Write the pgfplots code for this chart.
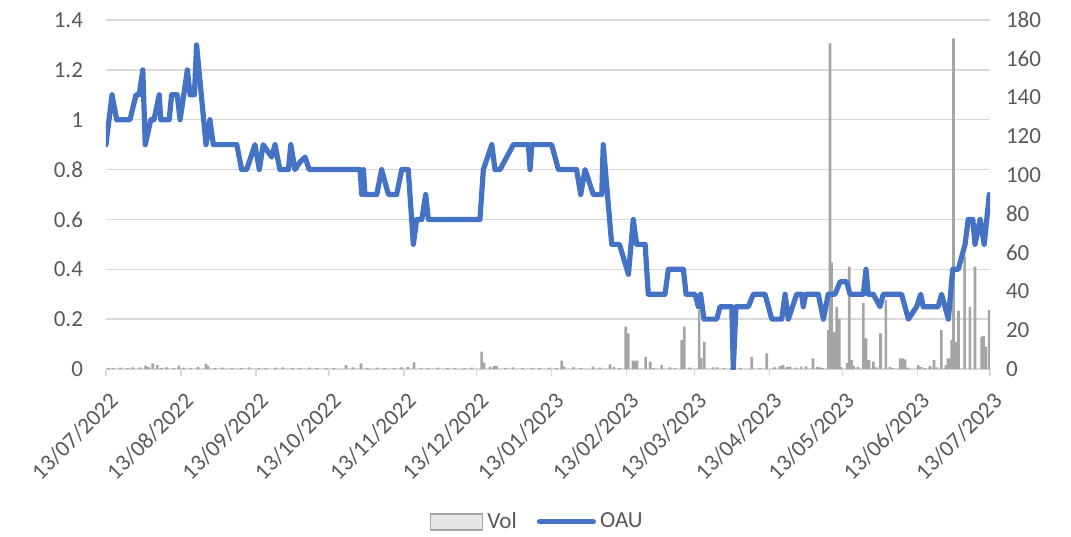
\documentclass[border=0pt]{standalone}
\usepackage{pgfplots}
\pgfplotsset{compat=1.18}
\usepackage{fontspec}
\setmainfont{Carlito}
\definecolor{txt}{HTML}{595959}
\definecolor{gridc}{HTML}{D9D9D9}
\definecolor{oau}{HTML}{4472C4}
\definecolor{volc}{HTML}{A5A5A5}
\definecolor{volleg}{HTML}{E7E6E6}
\begin{document}
\fontsize{11.5}{13.8}\selectfont
\begin{tikzpicture}
\useasboundingbox (-53pt,-83.5pt) rectangle (482.5pt,184.5pt);
\pgfplotsset{
 base/.style={
  scale only axis, width=442pt, height=174.5pt, at={(0,0)}, anchor=south west,
  xmin=0, xmax=365,
  /pgf/number format/assume math mode=true,
  ticklabel style={font=\fontsize{11.5}{13.8}\selectfont, text=txt},
 }
}
% axis 1: grid, left labels, dates
\begin{axis}[base,
  ymin=0, ymax=1.4,
  ytick={0,0.2,0.4,0.6,0.8,1,1.2,1.4},
  yticklabels={0,0.2,0.4,0.6,0.8,1,1.2,1.4},
  ymajorgrids, grid style={gridc, line width=0.75pt},
  axis x line*=bottom, axis y line*=left,
  y axis line style={draw=none}, ytick style={draw=none},
  x axis line style={gridc, line width=0.75pt},
  xtick style={gridc, line width=0.75pt},
  tick align=outside, major tick length=3.5pt,
  yticklabel style={xshift=-4pt},
  xtick={0,31,62,92,123,153,184,215,243,274,304,335,365},
  xticklabels={13/07/2022,13/08/2022,13/09/2022,13/10/2022,13/11/2022,13/12/2022,13/01/2023,13/02/2023,13/03/2023,13/04/2023,13/05/2023,13/06/2023,13/07/2023},
  xticklabel style={rotate=45, anchor=north east, inner sep=0pt, yshift=-6pt, xshift=-4.5pt},
]
\end{axis}
% axis 2: volume bars
\begin{axis}[base,
  ymin=0, ymax=180,
  ytick={0,20,40,60,80,100,120,140,160,180},
  yticklabels={0,20,40,60,80,100,120,140,160,180},
  axis y line*=right, axis x line=none,
  y axis line style={draw=none}, ytick style={draw=none},
  yticklabel style={anchor=west, xshift=4pt},
  ybar, bar width=1.1,
]
\addplot[fill=volc, draw=none] coordinates {
(1,0.6) (3,0.5) (6,0.7) (9,0.5) (11,0.8) (14,0.9) (16.4,1.7) (17.5,1.0) (19.3,2.9) (21.2,2.0) (23,0.6) (25,0.8) (28,0.5)
(30.1,1.7) (32,0.7) (35,0.6) (38,1.0) (41.3,2.6) (42.1,1.5) (45,0.5) (48,0.7) (52,0.6) (56,0.5) (59,0.8) (63,0.6) (66,0.5)
(70,0.7) (73,0.9) (77,0.6) (80,0.5) (84,0.7) (87,0.5) (91,0.6) (94,0.5) (99.1,2.0) (102,0.8) (105.3,2.9) (108,0.6) (112,0.7)
(115,0.5) (119,0.6) (122,0.9) (124.7,1.0) (127.2,3.4) (130,0.6) (133,0.5) (137,0.7) (141,0.5) (144,0.6) (148,0.5) (151,0.7)
(155.1,9.0) (156.1,3.3) (158.6,1.2) (160.2,1.5) (161.4,1.5) (165,0.6) (168,0.8) (172,0.5) (176,0.6) (179,0.5) (183,0.7)
(186,0.6) (188.2,4.3) (189.1,1.2) (193,0.8) (196,0.5) (201.1,1.2) (204,0.7) (208.1,2.4) (209.7,1.0) (212,0.6)
(214.6,21.8) (215.7,18.4) (217.6,4.3) (218.4,4.3) (219.3,4.3) (222.8,6.3) (224.7,3.8) (226,0.5) (229.4,2.0) (232.9,0.8)
(235,0.6) (237.7,15.0) (238.8,21.8) (241,0.7) (244.9,30.4) (245.7,5.6) (247.0,14.0) (250.6,0.8) (252.3,0.8) (255,0.6)
(258,0.5) (262,0.6) (266.6,6.3) (270,0.5) (272.8,8.0) (276,0.8) (278.3,1.5) (279.5,2.0) (281.2,1.0) (282.4,1.2) (285,0.7)
(287.0,1.2) (289.0,1.3) (291.9,5.5) (293.6,1.0) (294.8,0.8) (296,0.6) (298.3,20.0) (298.9,168.0) (299.6,55.0) (300.4,19.0)
(301.0,18.5) (301.7,32.0) (302.8,26.0) (303.5,1.0) (306.0,3.0) (306.9,52.8) (307.9,4.6) (308.8,1.5) (310.5,1.0)
(312.7,34.0) (313.8,15.8) (315.0,4.6) (316.8,3.8) (318.0,0.8) (319.8,18.4) (322.0,35.6) (323.7,1.0) (325,0.5)
(327.9,5.5) (328.9,5.5) (329.9,5.0) (331,0.7) (335.3,2.0) (336.5,1.0) (338,0.6) (340.2,1.5) (341.9,4.6) (343,0.8)
(344.9,20.0) (346.8,2.0) (347.6,5.5) (348.6,5.5) (349.2,15.0) (349.9,170.5) (351.0,14.0) (352.0,30.0) (354.5,58.0)
(356.7,32.0) (358.8,52.8) (361.6,16.7) (362.3,17.0) (363.3,11.5) (364.7,30.4)
};
\end{axis}
% axis 3: price line and legend
\begin{axis}[base,
  ymin=0, ymax=1.4, hide axis,
  legend columns=2,
  legend style={draw=none, fill=none, at={(0.489,-0.438)}, anchor=center,
    font=\fontsize{11.5}{13.8}\selectfont, text=txt,
    /tikz/every even column/.append style={column sep=8pt}},
]
\addlegendimage{legend image code/.code={\draw[fill=volleg, draw=volc, line width=0.75pt] (0pt,-4pt) rectangle (26pt,4pt);}}
\addlegendentry{Vol}
\addplot[oau, line width=2.6pt, line join=round, line cap=round,
  legend image code/.code={\draw[oau, line width=2.6pt, line cap=round] (0pt,0pt) -- (27pt,0pt);}] coordinates {
(0,0.90) (2.5,1.10) (4.4,1.00) (9.9,1.00) (12.4,1.10) (13.7,1.10) (15.2,1.20) (16.2,0.90) (18.5,1.00) (19.8,1.00)
(22.0,1.10) (22.6,1.00) (26.1,1.00) (27.1,1.10) (29.4,1.10) (30.6,1.00) (33.6,1.20) (34.7,1.10) (36.5,1.10) (37.4,1.30)
(41.3,0.90) (42.9,1.00) (44.3,0.90) (54.0,0.90) (56.0,0.80) (58.1,0.80) (61.5,0.90) (63.3,0.80) (64.9,0.90) (67.0,0.87)
(68.4,0.85) (69.8,0.90) (71.8,0.80) (75.3,0.80) (76.3,0.90) (78.0,0.80) (80.1,0.83) (82.2,0.85) (83.9,0.80) (104.9,0.80)
(105.6,0.70) (106.3,0.80) (106.9,0.70) (111.8,0.70) (113.8,0.80) (116.6,0.70) (120.0,0.70) (122.1,0.80) (124.8,0.80)
(126.9,0.50) (128.3,0.60) (130.4,0.60) (132.0,0.70) (133.1,0.60) (154.4,0.60) (155.8,0.80) (159.3,0.90) (160.6,0.80)
(162.7,0.80) (168.2,0.90) (174.4,0.90) (175.1,0.80) (175.8,0.90) (184.0,0.90) (186.8,0.80) (194.3,0.80) (196.0,0.70)
(197.8,0.80) (201.2,0.70) (204.7,0.70) (205.3,0.90) (208.8,0.50) (212.0,0.50) (215.7,0.38) (217.7,0.60) (219.1,0.50)
(222.6,0.50) (223.9,0.30) (230.8,0.30) (232.2,0.40) (238.4,0.40) (239.5,0.30) (243.2,0.30) (244.6,0.25) (245.5,0.30)
(246.9,0.20) (252.2,0.20) (253.5,0.25) (258.4,0.25) (259.0,0.00) (260.1,0.25) (265.2,0.25) (267.3,0.30) (272.1,0.30)
(273.5,0.25) (274.9,0.20) (279.0,0.20) (280.4,0.30) (281.7,0.20) (285.2,0.30) (287.2,0.30) (287.9,0.25) (288.9,0.30)
(294.1,0.30) (296.2,0.20) (298.2,0.30) (301.0,0.30) (303.1,0.35) (305.8,0.35) (307.2,0.30) (312.7,0.30) (313.8,0.40)
(314.7,0.30) (316.8,0.30) (319.6,0.25) (320.9,0.30) (328.5,0.30) (329.9,0.25) (331.3,0.20) (334.7,0.25) (336.4,0.30)
(337.4,0.25) (343.6,0.25) (345.0,0.30) (347.8,0.20) (349.6,0.40) (351.9,0.40) (354.7,0.50) (356.0,0.60) (357.9,0.60)
(358.8,0.50) (360.9,0.60) (362.6,0.50) (364.7,0.70)
};
\addlegendentry{OAU}
\end{axis}
\end{tikzpicture}
\end{document}
